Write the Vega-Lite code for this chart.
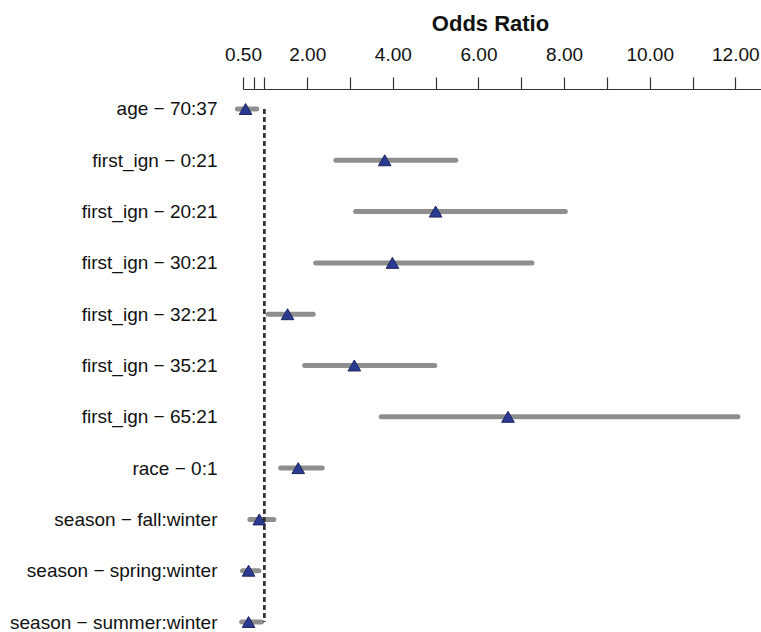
{
  "$schema": "https://vega.github.io/schema/vega-lite/v6.json",
  "width": 518,
  "height": 543,
  "autosize": "none",
  "padding": {"left": 243, "top": 89, "right": 0, "bottom": 0},
  "background": "white",
  "config": {"view": {"stroke": null}, "font": "Liberation Sans", "axis": {"labelOverlap": false}},
  "data": {
    "values": [
      {"term": "age − 70:37", "est": 0.56, "low": 0.37, "high": 0.82},
      {"term": "first_ign − 0:21", "est": 3.81, "low": 2.67, "high": 5.47},
      {"term": "first_ign − 20:21", "est": 5.0, "low": 3.13, "high": 8.03},
      {"term": "first_ign − 30:21", "est": 3.99, "low": 2.2, "high": 7.25},
      {"term": "first_ign − 32:21", "est": 1.54, "low": 1.09, "high": 2.14},
      {"term": "first_ign − 35:21", "est": 3.1, "low": 1.94, "high": 4.98},
      {"term": "first_ign − 65:21", "est": 6.69, "low": 3.73, "high": 12.06},
      {"term": "race − 0:1", "est": 1.79, "low": 1.38, "high": 2.35},
      {"term": "season − fall:winter", "est": 0.88, "low": 0.66, "high": 1.22},
      {"term": "season − spring:winter", "est": 0.63, "low": 0.49, "high": 0.87},
      {"term": "season − summer:winter", "est": 0.63, "low": 0.47, "high": 0.93}
    ]
  },
  "layer": [
    {
      "mark": {"type": "rule", "strokeWidth": 5, "strokeCap": "round", "color": "#8e8e8e"},
      "encoding": {
        "x": {
          "field": "low",
          "type": "quantitative",
          "scale": {"domain": [0.5, 12.6], "nice": false, "zero": false},
          "axis": {
            "orient": "top",
            "title": "Odds Ratio",
            "values": [0.5, 0.75, 1, 2, 3, 4, 5, 6, 7, 8, 9, 10, 11, 12],
            "tickCount": 30,
            "labelExpr": "indexof([0.5, 2, 4, 6, 8, 10, 12], datum.value) >= 0 ? format(datum.value, '.2f') : ''",
            "tickSize": 12,
            "tickColor": "#333333",
            "tickWidth": 1.2,
            "domainColor": "#333333",
            "domainWidth": 1.2,
            "grid": false,
            "labelFontSize": 19,
            "labelColor": "#111111",
            "labelPadding": 13,
            "labelFlush": false,
            "labelOverlap": false,
            "titleFontSize": 22,
            "titleFontWeight": "bold",
            "titleColor": "#111111",
            "titlePadding": 10,
            "titleX": 247
          }
        },
        "x2": {"field": "high"},
        "y": {
          "field": "term",
          "type": "nominal",
          "sort": null,
          "scale": {"type": "point", "padding": 0.292, "align": 0.667},
          "axis": {
            "title": null,
            "domain": false,
            "ticks": false,
            "tickSize": 0,
            "labelPadding": 26,
            "labelFontSize": 19,
            "labelColor": "#111111",
            "labelLimit": 400
          }
        }
      }
    },
    {
      "mark": {"type": "rule", "strokeDash": [5, 3], "color": "#333333", "strokeWidth": 1.4},
      "encoding": {
        "x": {"datum": 1, "type": "quantitative"},
        "y": {"datum": "age − 70:37", "type": "nominal"},
        "y2": {"datum": "season − summer:winter"}
      }
    },
    {
      "mark": {"type": "point", "shape": "triangle-up", "filled": true, "size": 160, "fill": "#2a3a90", "stroke": "#1f2760", "strokeWidth": 1, "opacity": 1},
      "encoding": {
        "x": {"field": "est", "type": "quantitative"},
        "y": {"field": "term", "type": "nominal", "sort": null}
      }
    }
  ]
}
